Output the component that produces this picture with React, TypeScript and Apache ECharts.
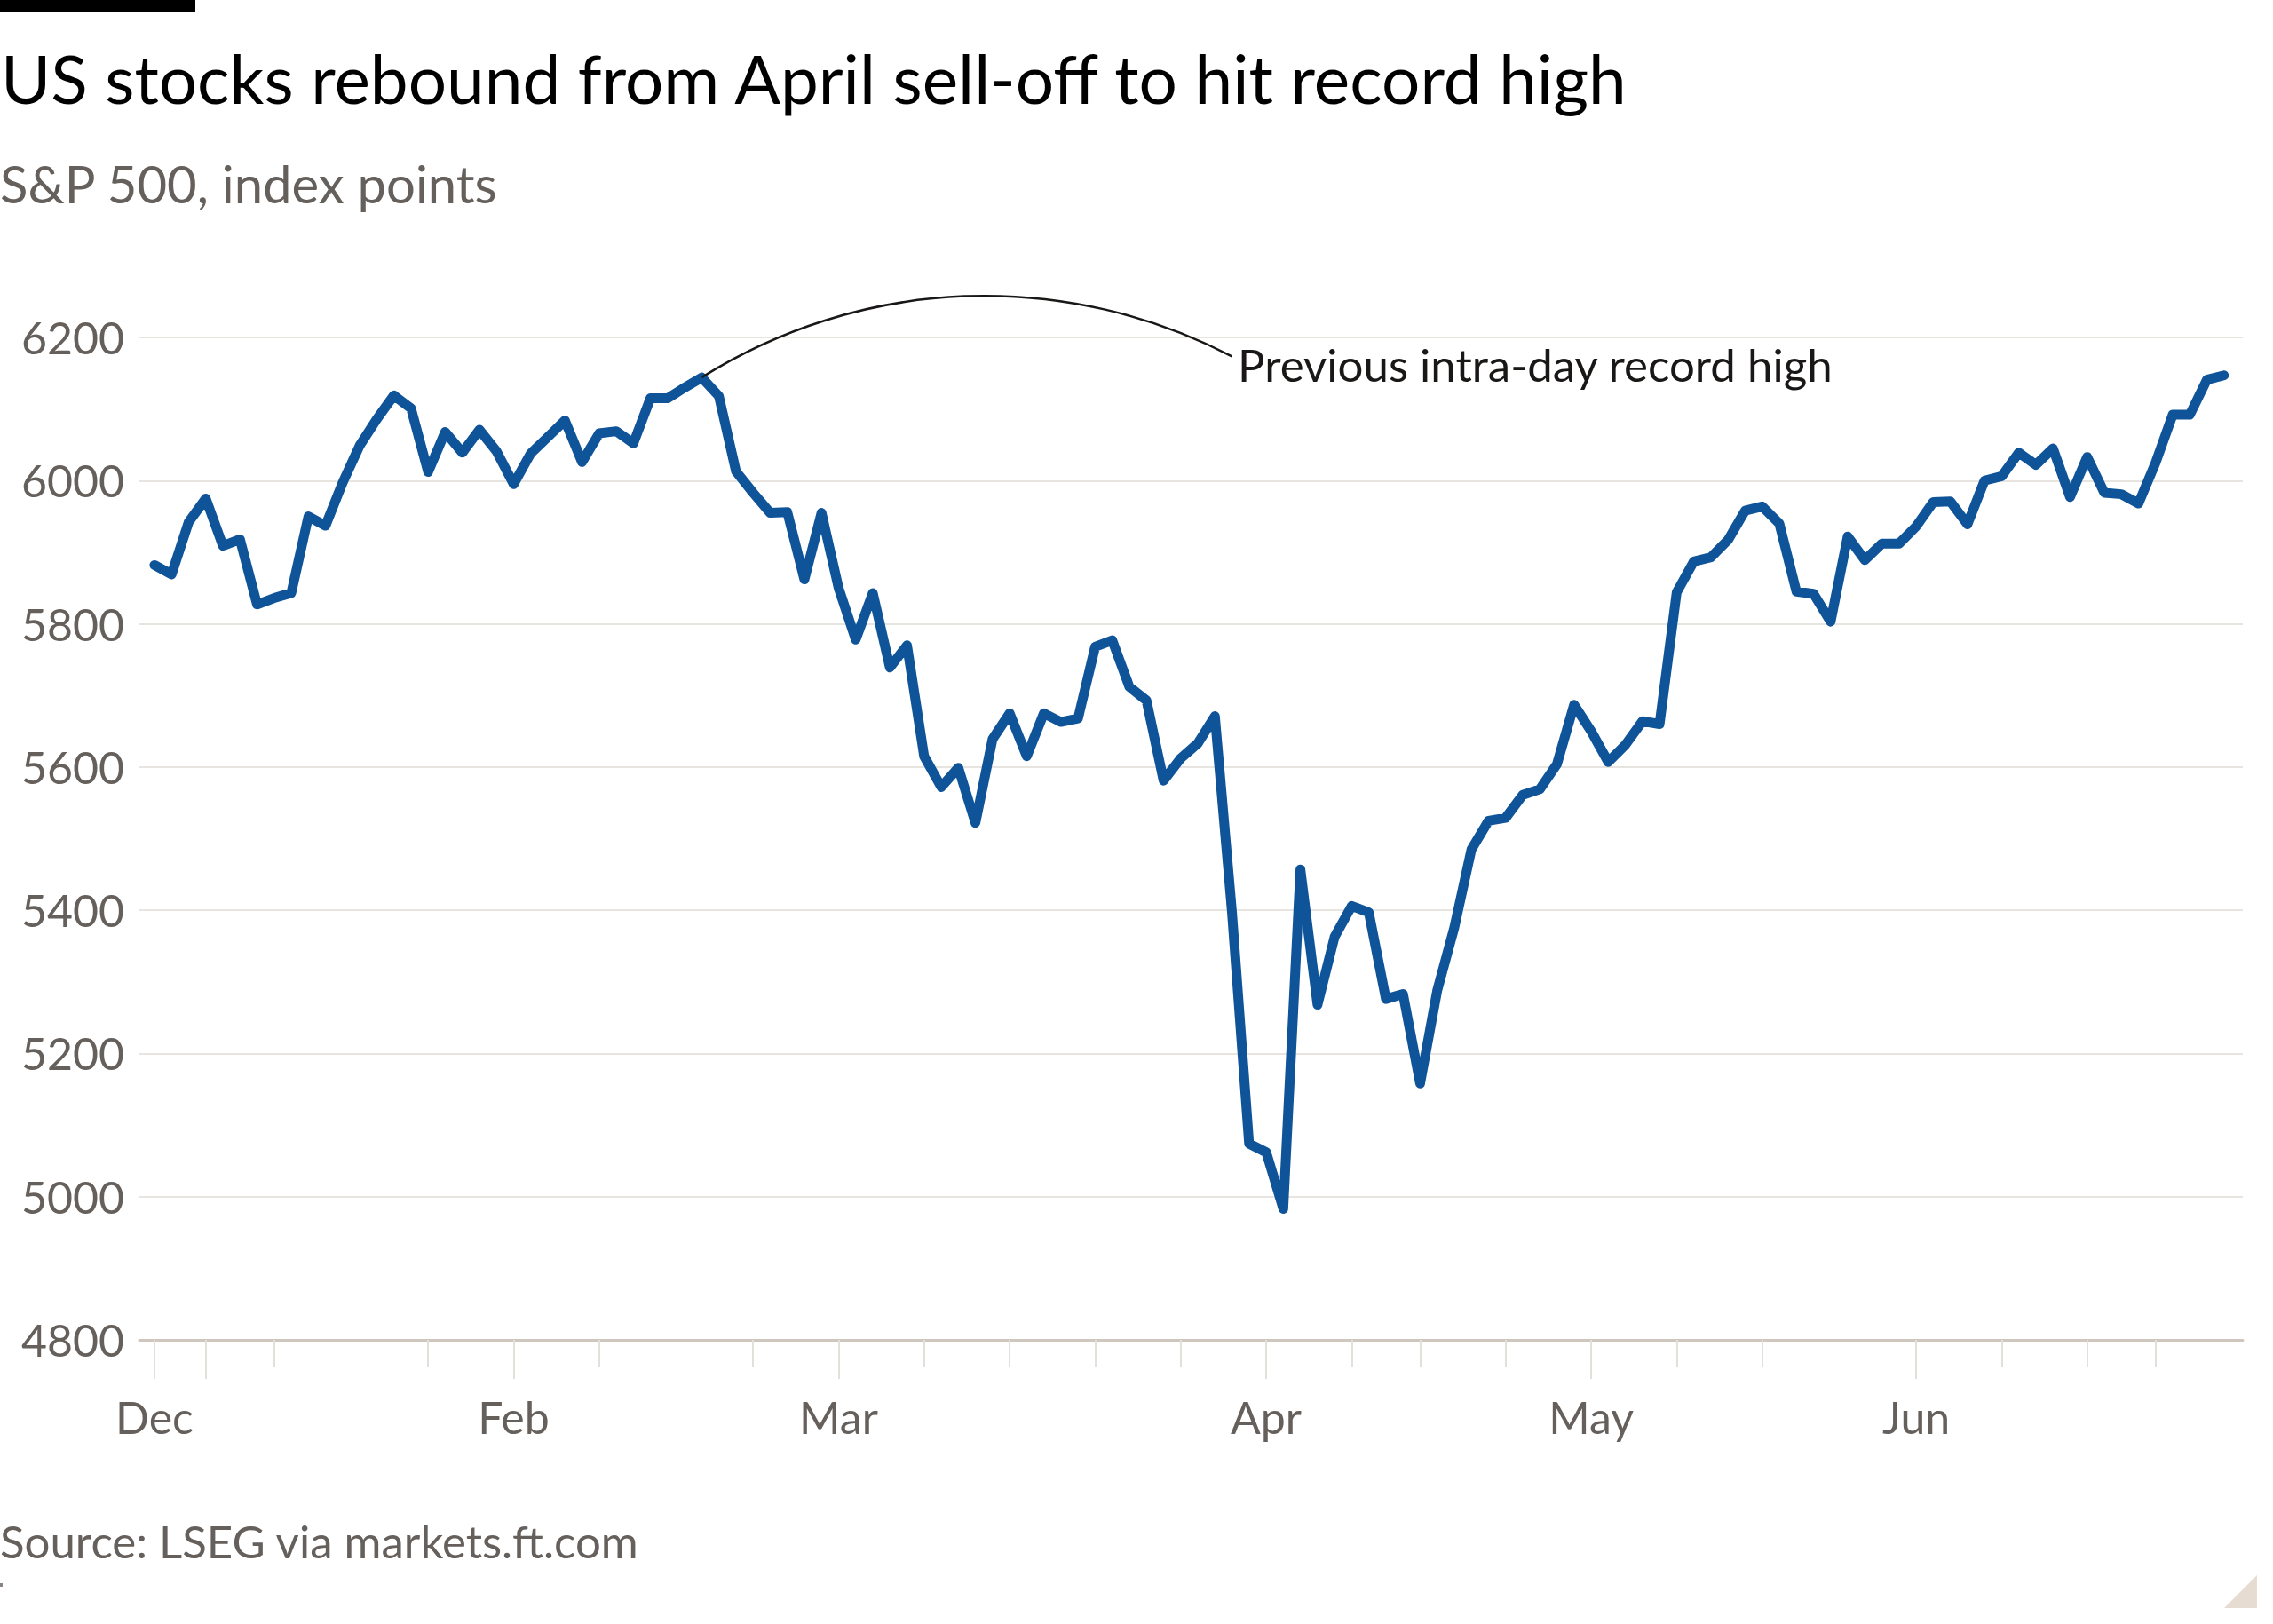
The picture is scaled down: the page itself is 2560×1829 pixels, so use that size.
import { useEffect, useRef } from 'react';
import * as echarts from 'echarts';

// S&P 500 daily closes, 31 Dec 2024 to 27 Jun 2025 (index 0 = 31 Dec)
const dates = [
  'Dec 31', 'Jan 2', 'Jan 3', 'Jan 6', 'Jan 7', 'Jan 8', 'Jan 10', 'Jan 13', 'Jan 14', 'Jan 15',
  'Jan 16', 'Jan 17', 'Jan 21', 'Jan 22', 'Jan 23', 'Jan 24', 'Jan 27', 'Jan 28', 'Jan 29', 'Jan 30',
  'Jan 31', 'Feb 3', 'Feb 4', 'Feb 5', 'Feb 6', 'Feb 7', 'Feb 10', 'Feb 11', 'Feb 12', 'Feb 13',
  'Feb 14', 'Feb 18', 'Feb 19', 'Feb 20', 'Feb 21', 'Feb 24', 'Feb 25', 'Feb 26', 'Feb 27', 'Feb 28',
  'Mar 3', 'Mar 4', 'Mar 5', 'Mar 6', 'Mar 7', 'Mar 10', 'Mar 11', 'Mar 12', 'Mar 13', 'Mar 14',
  'Mar 17', 'Mar 18', 'Mar 19', 'Mar 20', 'Mar 21', 'Mar 24', 'Mar 25', 'Mar 26', 'Mar 27', 'Mar 28',
  'Mar 31', 'Apr 1', 'Apr 2', 'Apr 3', 'Apr 4', 'Apr 7', 'Apr 8', 'Apr 9', 'Apr 10', 'Apr 11',
  'Apr 14', 'Apr 15', 'Apr 16', 'Apr 17', 'Apr 21', 'Apr 22', 'Apr 23', 'Apr 24', 'Apr 25', 'Apr 28',
  'Apr 29', 'Apr 30', 'May 1', 'May 2', 'May 5', 'May 6', 'May 7', 'May 8', 'May 9', 'May 12',
  'May 13', 'May 14', 'May 15', 'May 16', 'May 19', 'May 20', 'May 21', 'May 22', 'May 23', 'May 27',
  'May 28', 'May 29', 'May 30', 'Jun 2', 'Jun 3', 'Jun 4', 'Jun 5', 'Jun 6', 'Jun 9', 'Jun 10',
  'Jun 11', 'Jun 12', 'Jun 13', 'Jun 16', 'Jun 17', 'Jun 18', 'Jun 20', 'Jun 23', 'Jun 24', 'Jun 25',
  'Jun 26', 'Jun 27'
];

const closes = [
  5882, 5869, 5942, 5975, 5909, 5918, 5827, 5836, 5843, 5950,
  5937, 5997, 6049, 6086, 6119, 6101, 6012, 6068, 6039, 6071,
  6041, 5995, 6038, 6061, 6084, 6026, 6066, 6069, 6052, 6115,
  6115, 6130, 6144, 6118, 6013, 5983, 5955, 5956, 5862, 5955,
  5850, 5778, 5843, 5739, 5770, 5615, 5572, 5599, 5522, 5639,
  5675, 5615, 5675, 5663, 5668, 5768, 5777, 5712, 5693, 5581,
  5612, 5633, 5671, 5397, 5074, 5062, 4983, 5457, 5268, 5363,
  5406, 5397, 5276, 5283, 5158, 5288, 5376, 5485, 5525, 5529,
  5561, 5569, 5604, 5687, 5650, 5607, 5631, 5664, 5660, 5844,
  5887, 5893, 5917, 5958, 5964, 5940, 5845, 5842, 5803, 5922,
  5889, 5912, 5912, 5936, 5970, 5971, 5939, 6000, 6006, 6039,
  6022, 6045, 5977, 6033, 5983, 5981, 5968, 6025, 6092, 6092,
  6141, 6147
];

// tick positions (data index of the first trading day of the week)
const monthTicks = [0, 3, 21, 40, 65, 84, 103];
const weekTicks = [7, 16, 26, 35, 45, 50, 55, 60, 70, 74, 79, 89, 94, 108, 113, 117];
const labelTicks = [0, 21, 40, 65, 84, 103];
const monthLabels = ['Dec', 'Feb', 'Mar', 'Apr', 'May', 'Jun'];

const yTicks = [4800, 5000, 5200, 5400, 5600, 5800, 6000, 6200];

const peakIndex = 32; // 19 Feb intra-day record

const FONT = 'Lato, "Open Sans", sans-serif';
const GREY = '#66605c';

export default function App() {
  const ref = useRef<HTMLDivElement | null>(null);

  useEffect(() => {
    document.body.style.margin = '0';
    if (!ref.current) {
      return;
    }
    const chart = echarts.init(ref.current, undefined, { renderer: 'svg' });
    const xMin = -0.88;
    const xMax = 122.1;

    chart.setOption({
      animation: false,
      backgroundColor: '#fff',
      grid: { left: 157, right: 34, top: 380, bottom: 320, containLabel: false },
      xAxis: [
        {
          type: 'value',
          min: xMin,
          max: xMax,
          position: 'bottom',
          axisLine: { show: true, lineStyle: { color: '#cfc7be', width: 3 } },
          axisTick: {
            show: true,
            customValues: monthTicks,
            length: 44,
            lineStyle: { color: '#e3dfdb', width: 2 }
          },
          axisLabel: {
            show: true,
            customValues: labelTicks,
            formatter: (v: number) => monthLabels[labelTicks.indexOf(Math.round(v))] ?? '',
            fontFamily: FONT,
            fontSize: 50,
            color: GREY,
            margin: 62
          },
          splitLine: { show: false }
        },
        {
          type: 'value',
          min: xMin,
          max: xMax,
          position: 'bottom',
          axisLine: { show: false },
          axisTick: {
            show: true,
            customValues: weekTicks,
            length: 30,
            lineStyle: { color: '#e3dfdb', width: 2 }
          },
          axisLabel: { show: false },
          splitLine: { show: false }
        }
      ],
      yAxis: {
        type: 'value',
        min: yTicks[0],
        max: yTicks[yTicks.length - 1],
        interval: 200,
        axisLine: { show: false },
        axisTick: { show: false },
        axisLabel: {
          formatter: (v: number) => String(v),
          fontFamily: FONT,
          fontSize: 50,
          color: GREY,
          margin: 17
        },
        splitLine: { lineStyle: { color: '#e8e5e1', width: 2 } }
      },
      series: [
        {
          type: 'line',
          xAxisIndex: 0,
          data: closes.map((v, i) => [i, v]),
          showSymbol: false,
          lineStyle: { color: '#0f5499', width: 11, join: 'round', cap: 'round' },
          z: 5
        }
      ]
    });

    const [px, py] = chart.convertToPixel({ xAxisIndex: 0, yAxisIndex: 0 }, [peakIndex, closes[peakIndex]]);

    chart.setOption({
      graphic: [
        { type: 'rect', shape: { x: 0, y: 0, width: 220, height: 14 }, style: { fill: '#000' } },
        {
          type: 'text',
          style: {
            text: 'US stocks rebound from April sell-off to hit record high',
            x: 1,
            y: 87,
            font: `400 76.5px ${FONT}`,
            fill: '#000',
            verticalAlign: 'middle',
            textVerticalAlign: 'middle'
          }
        },
        {
          type: 'text',
          style: {
            text: 'S&P 500, index points',
            x: 0,
            y: 206,
            font: `400 58px ${FONT}`,
            fill: GREY,
            verticalAlign: 'middle',
            textVerticalAlign: 'middle'
          }
        },
        {
          type: 'arc',
          shape: { cx: px + 319, cy: py + 508, r: 600, startAngle: -2.131, endAngle: -1.089, clockwise: true },
          style: { stroke: '#1a1817', lineWidth: 2.5, fill: 'none' },
          z: 10
        },
        {
          type: 'text',
          style: {
            text: 'Previous intra-day record high',
            x: 1394,
            y: 410,
            font: `400 51px ${FONT}`,
            fill: '#1a1817',
            verticalAlign: 'middle',
            textVerticalAlign: 'middle'
          },
          z: 10
        },
        {
          type: 'text',
          style: {
            text: 'Source: LSEG via markets.ft.com',
            x: 0,
            y: 1735,
            font: `400 51px ${FONT}`,
            fill: GREY,
            verticalAlign: 'middle',
            textVerticalAlign: 'middle'
          }
        },
        { type: 'rect', shape: { x: 0, y: 1783, width: 3, height: 4 }, style: { fill: '#8a837f' } },
        {
          type: 'polygon',
          shape: { points: [[2542, 1774], [2542, 1811], [2505, 1811]] },
          style: { fill: '#e7dcd1' }
        }
      ]
    });

    return () => {
      chart.dispose();
    };
  }, []);

  return (
    <div
      ref={ref}
      style={{ position: 'absolute', left: 0, top: 0, width: 2560, height: 1829 }}
    />
  );
}
